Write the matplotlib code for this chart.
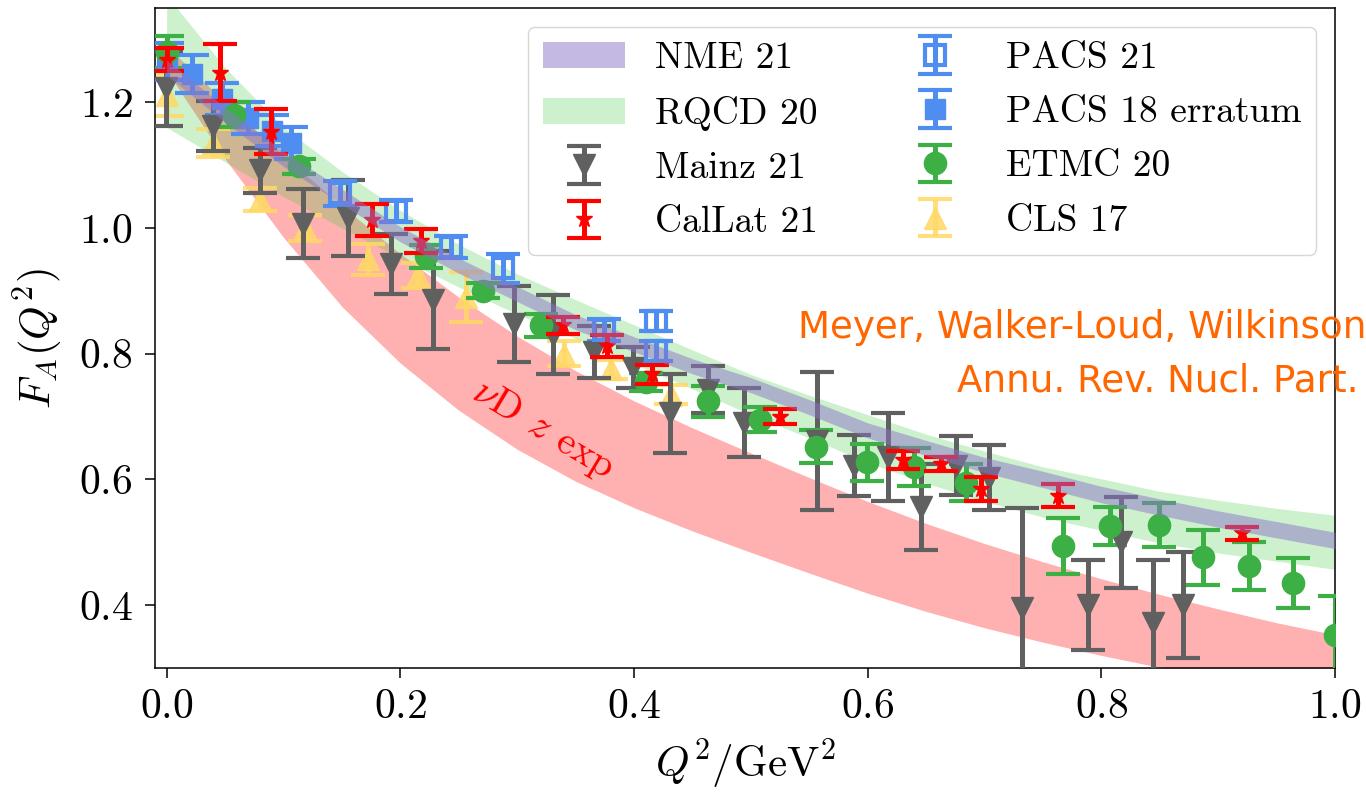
import matplotlib
matplotlib.use("Agg")
import matplotlib.pyplot as plt
import numpy as np

plt.rcParams['font.family'] = 'serif'
plt.rcParams['font.serif'] = ['cmr10']
plt.rcParams['mathtext.fontset'] = 'cm'
plt.rcParams['axes.formatter.use_mathtext'] = True

# ---------------- data ----------------
band_q2 = [0.0, 0.05, 0.1, 0.15, 0.2, 0.25, 0.3, 0.35, 0.4, 0.45, 0.5,
           0.55, 0.6, 0.65, 0.7, 0.75, 0.8, 0.85, 0.9, 0.95, 1.0]

nme_c = [1.255, 1.18, 1.11, 1.05, 0.99, 0.94, 0.895, 0.85, 0.815, 0.78, 0.75,
         0.715, 0.678, 0.65, 0.623, 0.60, 0.576, 0.556, 0.537, 0.52, 0.503]
nme_w = [0.012, 0.012, 0.012, 0.012, 0.012, 0.012, 0.012, 0.012, 0.012, 0.012, 0.012,
         0.012, 0.012, 0.012, 0.012, 0.013, 0.013, 0.013, 0.013, 0.013, 0.013]

rqcd_c = [1.265, 1.18, 1.105, 1.045, 0.99, 0.94, 0.895, 0.855, 0.815, 0.775, 0.735,
          0.70, 0.665, 0.633, 0.605, 0.58, 0.56, 0.54, 0.525, 0.512, 0.50]
rqcd_w = [0.105, 0.075, 0.055, 0.045, 0.038, 0.034, 0.032, 0.031, 0.031, 0.031, 0.032,
          0.034, 0.038, 0.039, 0.04, 0.04, 0.041, 0.041, 0.042, 0.042, 0.043]

nud_c = [1.27, 1.155, 1.05, 0.955, 0.872, 0.80, 0.738, 0.685, 0.64, 0.60, 0.563,
         0.527, 0.492, 0.46, 0.431, 0.405, 0.381, 0.359, 0.339, 0.32, 0.303]
nud_w = [0.02, 0.045, 0.065, 0.08, 0.087, 0.09, 0.09, 0.088, 0.085, 0.082, 0.079,
         0.076, 0.073, 0.07, 0.067, 0.064, 0.061, 0.058, 0.055, 0.052, 0.05]

mainz_x = [-0.001, 0.040, 0.080, 0.117, 0.155, 0.192, 0.228, 0.297, 0.331, 0.366,
           0.399, 0.431, 0.463, 0.494, 0.557, 0.588, 0.617, 0.646, 0.676, 0.704,
           0.732, 0.789, 0.817, 0.844, 0.870]
mainz_y = [1.222, 1.162, 1.092, 1.007, 1.016, 0.943, 0.885, 0.847, 0.830, 0.803,
           0.778, 0.705, 0.743, 0.690, 0.661, 0.622, 0.636, 0.556, 0.622, 0.603,
           0.395, 0.400, 0.500, 0.372, 0.400]
mainz_e = [0.060, 0.040, 0.036, 0.055, 0.060, 0.048, 0.078, 0.060, 0.063, 0.041,
           0.032, 0.063, 0.038, 0.055, 0.110, 0.048, 0.070, 0.068, 0.047, 0.052,
           0.160, 0.072, 0.072, 0.100, 0.084]

callat_x = [0.0, 0.046, 0.089, 0.176, 0.218, 0.339, 0.377, 0.415, 0.525, 0.630,
            0.663, 0.697, 0.763, 0.920]
callat_y = [1.268, 1.247, 1.153, 1.013, 0.979, 0.845, 0.812, 0.767, 0.700, 0.631,
            0.624, 0.585, 0.574, 0.514]
callat_e = [0.018, 0.045, 0.036, 0.025, 0.019, 0.013, 0.017, 0.015, 0.012, 0.015,
            0.011, 0.019, 0.018, 0.011]

pacs21_x = [0.148, 0.196, 0.243, 0.288, 0.374, 0.419, 0.419]
pacs21_y = [1.055, 1.027, 0.970, 0.936, 0.838, 0.852, 0.804]
pacs21_e = [0.020, 0.017, 0.017, 0.023, 0.018, 0.016, 0.016]

pacs18_x = [0.0, 0.022, 0.047, 0.070, 0.090, 0.106]
pacs18_y = [1.265, 1.245, 1.205, 1.175, 1.155, 1.135]
pacs18_e = [0.030, 0.030, 0.025, 0.025, 0.025, 0.025]

etmc_x = [0.0, 0.058, 0.113, 0.222, 0.271, 0.320, 0.410, 0.463, 0.508, 0.556,
          0.599, 0.640, 0.684, 0.767, 0.807, 0.849, 0.887, 0.926, 0.964, 1.0]
etmc_y = [1.280, 1.180, 1.098, 0.955, 0.900, 0.845, 0.755, 0.724, 0.695, 0.652,
          0.627, 0.620, 0.595, 0.494, 0.526, 0.527, 0.476, 0.462, 0.435, 0.353]
etmc_e = [0.025, 0.020, 0.012, 0.018, 0.012, 0.018, 0.015, 0.024, 0.020, 0.026,
          0.030, 0.030, 0.030, 0.045, 0.030, 0.035, 0.044, 0.038, 0.040, 0.062]

cls_x = [0.0, 0.040, 0.080, 0.118, 0.172, 0.215, 0.256, 0.340, 0.380, 0.432]
cls_y = [1.211, 1.135, 1.045, 1.000, 0.950, 0.925, 0.890, 0.800, 0.775, 0.735]
cls_e = [0.033, 0.022, 0.018, 0.020, 0.025, 0.020, 0.040, 0.020, 0.015, 0.015]

# ---------------- figure ----------------
fig = plt.figure(figsize=(13.66, 7.93), dpi=100)
ax = fig.add_axes([155 / 1366, 1 - 668 / 793, 1180 / 1366, 660 / 793])

bq = np.array(band_q2)
def band(c, w):
    c = np.array(c); w = np.array(w)
    return c - w, c + w

lo, hi = band(nud_c, nud_w)
ax.fill_between(bq, lo, hi, color='red', alpha=0.31, lw=0, zorder=1)
lo, hi = band(rqcd_c, rqcd_w)
h_rqcd = ax.fill_between(bq, lo, hi, color='#38C838', alpha=0.25, lw=0, zorder=1.5, label='RQCD 20')
lo, hi = band(nme_c, nme_w)
h_nme = ax.fill_between(bq, lo, hi, color='#8B75C9', alpha=0.5, lw=0, zorder=5, label='NME 21')

eb = dict(ls='none', capsize=12, elinewidth=3.6, capthick=3)
h_mainz = ax.errorbar(mainz_x, mainz_y, yerr=mainz_e, fmt='v', color='#606060', ms=16,
                      label='Mainz 21', zorder=3, **eb)
h_pacs21 = ax.errorbar(pacs21_x, pacs21_y, yerr=pacs21_e, fmt='s', color='#4F8EF0', ms=15,
                       mfc='none', mew=3, label='PACS 21', zorder=3, **eb)
h_pacs18 = ax.errorbar(pacs18_x, pacs18_y, yerr=pacs18_e, fmt='s', color='#4F8EF0', ms=15,
                       label='PACS 18 erratum', zorder=3, **eb)
h_cls = ax.errorbar(cls_x, cls_y, yerr=cls_e, fmt='^', color='#FFD966', ms=16,
                    label='CLS 17', zorder=2.5, alpha=0.85, **eb)
h_etmc = ax.errorbar(etmc_x, etmc_y, yerr=etmc_e, fmt='o', color='#3CB044', ms=16,
                     label='ETMC 20', zorder=3, **eb)
h_callat = ax.errorbar(callat_x, callat_y, yerr=callat_e, fmt='*', color='#FF0000', ms=12,
                       label='CalLat 21', zorder=3.5, **eb)

ax.text(0.322, 0.679, r'$\nu$D $z$ exp', rotation=-31, color='red', fontsize=29,
        ha='center', va='center', rotation_mode='anchor', zorder=6)

ax.set_xlim(-0.01, 1.0)
ax.set_ylim(0.3, 1.35)
ax.set_xticks([0.0, 0.2, 0.4, 0.6, 0.8, 1.0])
ax.set_yticks([0.4, 0.6, 0.8, 1.0, 1.2])
ax.tick_params(direction='out', length=7, width=1.1, labelsize=30)
ax.tick_params(axis='x', pad=8)
ax.tick_params(axis='y', pad=9)
for s in ax.spines.values():
    s.set_linewidth(1.1)

ax.set_xlabel(r'$Q^2/\mathrm{GeV}^2$', fontsize=31, labelpad=8)
ax.set_ylabel(r'$F_A(Q^2)$', fontsize=31, labelpad=10)

handles = [h_nme, h_rqcd, h_mainz, h_callat, h_pacs21, h_pacs18, h_etmc, h_cls]
labels = ['NME 21', 'RQCD 20', 'Mainz 21', 'CalLat 21', 'PACS 21', 'PACS 18 erratum',
          'ETMC 20', 'CLS 17']
leg = ax.legend(handles, labels, ncol=2, loc='upper right', fontsize=27, framealpha=0.8,
                handlelength=2.2, labelspacing=0.56)
leg.set_zorder(10)

fig.text(798 / 1366, 1 - 338 / 793, 'Meyer, Walker-Loud, Wilkinson', color='#FF6600',
         fontsize=26.8, family='DejaVu Sans', va='baseline', ha='left')
fig.text(957 / 1366, 1 - 392 / 793, 'Annu. Rev. Nucl. Part.', color='#FF6600',
         fontsize=26.8, family='DejaVu Sans', va='baseline', ha='left')

fig.savefig('out.png', dpi=100)
